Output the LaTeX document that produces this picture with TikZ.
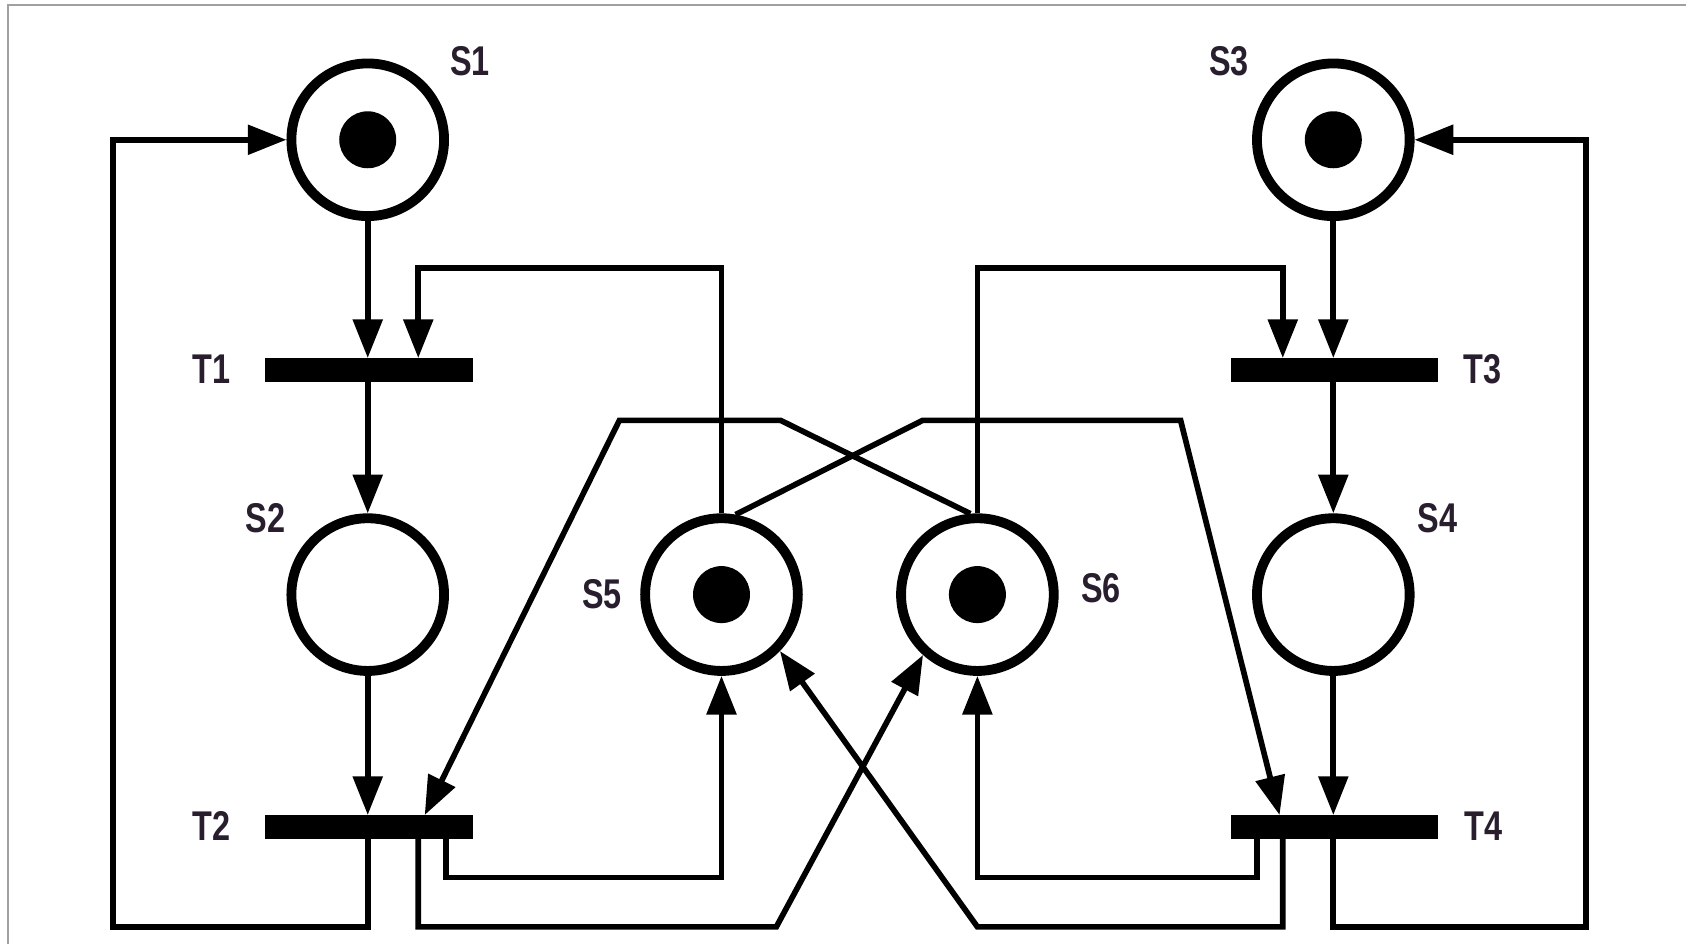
\documentclass[tikz,border=0pt]{standalone}
\usepackage{fontspec}
\newfontfamily\labfont[FakeStretch=0.78]{Liberation Sans}
\usetikzlibrary{arrows.meta,calc}
\definecolor{labcol}{RGB}{40,30,45}
\definecolor{framecol}{RGB}{160,160,160}
\begin{document}
\begin{tikzpicture}[x=0.1mm,y=-0.1mm,
  place/.style={circle,draw,line width=2.6pt,minimum size=14.2mm,inner sep=0pt},
  token/.style={circle,fill,minimum size=5.3mm,inner sep=0pt},
  trans/.style={rectangle,fill,minimum width=19.3mm,minimum height=2.2mm,inner sep=0pt,outer sep=0pt},
  lab/.style={text=labcol,font=\labfont\bfseries\fontsize{11}{13}\selectfont,inner sep=0pt},
  arc/.style={line width=1.5pt,-{Triangle[length=3.6mm,width=2.7mm]}},
  ]
\useasboundingbox (0,0) rectangle (1568,878);
\draw[framecol,line width=0.55pt] (7.5,878) -- (7.5,5) -- (1568,5);

% places
\node[place] (S1) at (342,130) {};
\node[place] (S2) at (342,553) {};
\node[place] (S3) at (1240,130) {};
\node[place] (S4) at (1240,553) {};
\node[place] (S5) at (671,553) {};
\node[place] (S6) at (909,553) {};
\node[token] (S1t) at (S1) {};
\node[token] (S3t) at (S3) {};
\node[token] (S5t) at (S5) {};
\node[token] (S6t) at (S6) {};

% transitions
\node[trans] (T1) at (343,344) {};
\node[trans] (T2) at (343,769) {};
\node[trans] (T3) at (1241,344) {};
\node[trans] (T4) at (1241,769) {};

% labels
\node[lab] (L1) at (437,57) {S1};
\node[lab] (L2) at (247,482) {S2};
\node[lab] (L3) at (1143,57) {S3};
\node[lab] (L4) at (1337,482) {S4};
\node[lab] (L5) at (560,553) {S5};
\node[lab] (L6) at (1024,547) {S6};
\node[lab] (LT1) at (197,343) {T1};
\node[lab] (LT2) at (197,768) {T2};
\node[lab] (LT3) at (1379,343) {T3};
\node[lab] (LT4) at (1380,768) {T4};

% bend points
\coordinate (k1) at (389,249);
\coordinate (k2) at (1193,249);
\coordinate (k3a) at (726,391);
\coordinate (k3b) at (576,391);
\coordinate (k3c) at (395,758);
\coordinate (k4a) at (858,391);
\coordinate (k4b) at (1098,391);
\coordinate (k4c) at (1190,758);
\coordinate (l1) at (105,862);
\coordinate (l2) at (415,816);
\coordinate (l3a) at (389,862);
\coordinate (l3b) at (722,862);
\coordinate (l4a) at (1193,862);
\coordinate (l4b) at (909,862);
\coordinate (l5) at (1169,816);
\coordinate (l6) at (1475,862);

% input arcs
\draw[arc] (S1.south) -- (S1.south |- T1.north);
\draw[arc] (S5.north) |- (k1) -- (k1 |- T1.north);
\draw[arc] (S2 |- T1.south) -- (S2.north);
\draw[arc] (S2.south) -- (S2.south |- T2.north);
\draw[arc] (S6.95) -- (k3a) -- (k3b) -- (k3c |- T2.north);
\draw[arc] (S5.80) -- (k4a) -- (k4b) -- (k4c |- T4.north);
\draw[arc] (S6.north) |- (k2) -- (k2 |- T3.north);
\draw[arc] (S3.south) -- (S3.south |- T3.north);
\draw[arc] (S4 |- T3.south) -- (S4.north);
\draw[arc] (S4.south) -- (S4.south |- T4.north);

% output arcs
\draw[arc] (S1 |- T2.south) |- (l1) |- (S1.west);
\draw[arc] (l2 |- T2.south) -- (l2) -| (S5.south);
\draw[arc] (l3a |- T2.south) -- (l3a) -- (l3b) -- (S6.228);
\draw[arc] (l4a |- T4.south) -- (l4a) -- (l4b) -- (S5.-44);
\draw[arc] (l5 |- T4.south) -- (l5) -| (S6.south);
\draw[arc] (S3 |- T4.south) |- (l6) |- (S3.east);
\end{tikzpicture}
\end{document}
